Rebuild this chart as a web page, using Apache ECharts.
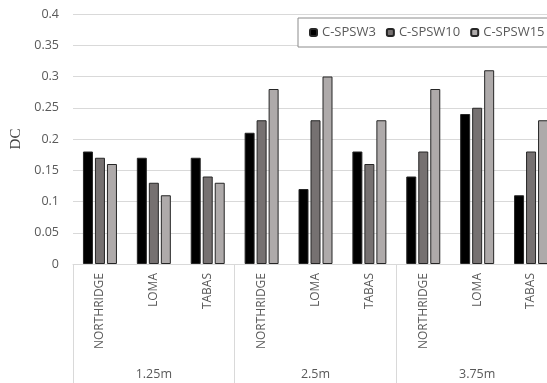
<!DOCTYPE html>
<html>
<head>
<meta charset="utf-8">
<script src="https://cdn.jsdelivr.net/npm/echarts@6/dist/echarts.min.js"></script>
<style>
 html, body { margin: 0; padding: 0; background: #fff; }
 #chart { width: 547px; height: 383px; }
</style>
</head>
<body>
<div id="chart"></div>
<script>
// data
const records = ['NORTHRIDGE', 'LOMA', 'TABAS', 'NORTHRIDGE', 'LOMA', 'TABAS', 'NORTHRIDGE', 'LOMA', 'TABAS']
const groups = ['1.25m', '2.5m', '3.75m']
const spsw3 = [0.18, 0.17, 0.17, 0.21, 0.12, 0.18, 0.14, 0.24, 0.11]
const spsw10 = [0.17, 0.13, 0.14, 0.23, 0.23, 0.16, 0.18, 0.25, 0.18]
const spsw15 = [0.16, 0.11, 0.13, 0.28, 0.30, 0.23, 0.28, 0.31, 0.23]

const labelColor = '#595959'
const lineColor = '#d9d9d9'

const barStyle = function (color) {
 return {
  color: color,
  borderColor: '#262626',
  borderWidth: 1
 }
}

const chart = echarts.init(document.getElementById('chart'))
chart.setOption({
 animation: false,
 legend: {
  left: 298,
  top: 18,
  width: 400,
  orient: 'horizontal',
  padding: [8, 40, 8, 11],
  itemGap: 10,
  itemWidth: 7,
  itemHeight: 7,
  borderColor: '#8c8c8c',
  borderWidth: 1,
  backgroundColor: '#fff',
  textStyle: { color: labelColor, fontSize: 13, fontFamily: 'Open Sans' },
  data: ['C-SPSW3', 'C-SPSW10', 'C-SPSW15']
 },
 grid: {
  left: 73,
  right: -11,
  top: 14,
  bottom: 119,
  outerBoundsMode: 'none'
 },
 xAxis: [
  {
   type: 'category',
   data: records,
   axisLine: { lineStyle: { color: lineColor } },
   axisTick: { show: false },
   axisLabel: {
    interval: 0,
    rotate: 90,
    margin: 9,
    color: labelColor,
    fontSize: 12,
    fontFamily: 'Open Sans'
   }
  },
  {
   type: 'category',
   data: groups,
   position: 'bottom',
   axisLine: { show: false },
   axisTick: { show: true, length: 119, lineStyle: { color: lineColor } },
   axisLabel: {
    margin: 104,
    color: labelColor,
    fontSize: 12.5,
    fontFamily: 'Open Sans'
   }
  }
 ],
 yAxis: {
  type: 'value',
  min: 0,
  max: 0.4,
  interval: 0.05,
  name: 'DC',
  nameLocation: 'middle',
  nameGap: 44,
  nameTextStyle: { color: '#404040', fontSize: 15, fontFamily: 'Liberation Serif' },
  axisLine: { show: false },
  axisTick: { show: false },
  axisLabel: {
   margin: 14,
   color: labelColor,
   fontSize: 12.5,
   fontFamily: 'Open Sans',
   formatter: function (v) { return String(Math.round(v * 100) / 100) }
  },
  splitLine: { lineStyle: { color: lineColor } }
 },
 series: [
  { name: 'C-SPSW3', type: 'bar', data: spsw3, barWidth: 10, barGap: '20%', itemStyle: barStyle('#000000') },
  { name: 'C-SPSW10', type: 'bar', data: spsw10, barWidth: 10, barGap: '20%', itemStyle: barStyle('#767171') },
  { name: 'C-SPSW15', type: 'bar', data: spsw15, barWidth: 10, barGap: '20%', itemStyle: barStyle('#aeaaaa') }
 ]
})
</script>
</body>
</html>
